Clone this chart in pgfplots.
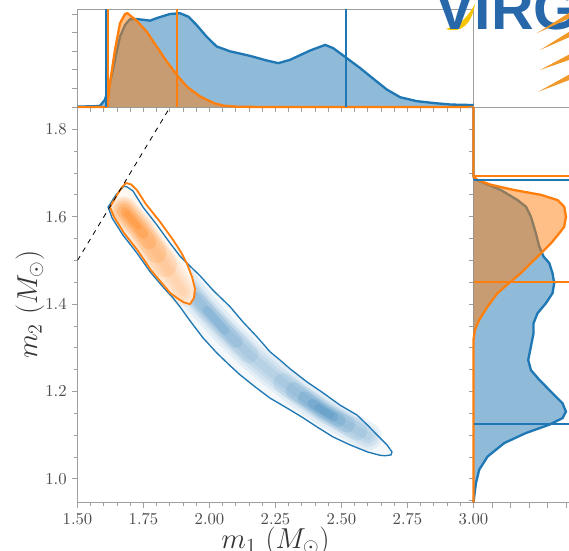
\documentclass[border=0pt]{standalone}
\usepackage{fontspec}
\usepackage{pgfplots}
\usepackage{pgfplotstable}
\pgfplotsset{compat=1.18}
\newfontfamily\logofont{Liberation Sans}

\definecolor{tabblue}{RGB}{31,119,180}
\definecolor{taborange}{RGB}{255,127,14}
\definecolor{virgoblue}{RGB}{38,104,170}
\definecolor{virgoyellow}{RGB}{246,196,0}
\definecolor{rayorange}{RGB}{240,152,40}

% marginal densities (top: m1, value scaled to panel height)
\pgfplotstableread{
x y
1.500 0.005
1.560 0.007
1.585 0.012
1.604 0.075
1.623 0.245
1.642 0.480
1.661 0.720
1.680 0.840
1.699 0.900
1.724 0.900
1.750 0.893
1.775 0.884
1.800 0.910
1.850 0.952
1.888 0.960
1.920 0.925
1.951 0.840
1.989 0.720
2.027 0.620
2.078 0.570
2.153 0.524
2.217 0.476
2.261 0.449
2.305 0.483
2.381 0.578
2.438 0.636
2.469 0.602
2.520 0.500
2.570 0.400
2.620 0.290
2.671 0.180
2.722 0.100
2.785 0.060
2.852 0.040
2.915 0.025
3.000 0.020
}\topblue

\pgfplotstableread{
x y
1.500 0
1.605 0
1.611 0.007
1.617 0.100
1.623 0.245
1.642 0.585
1.661 0.857
1.680 0.952
1.689 0.960
1.705 0.925
1.724 0.884
1.762 0.772
1.800 0.619
1.838 0.466
1.876 0.330
1.913 0.211
1.964 0.109
2.015 0.041
2.053 0.014
2.103 0.003
2.200 0
3.000 0
}\toporange

% right marginal: x = density (panel units), y = m2
\pgfplotstableread{
x y
0 0.946
0.7 0.960
2.4 0.990
5.7 1.021
14 1.051
30.7 1.082
52.4 1.105
75.7 1.124
89 1.139
92.4 1.154
89 1.173
79 1.196
65.7 1.227
57.4 1.249
54.7 1.272
57.4 1.303
60 1.333
60 1.356
64 1.379
72.4 1.402
79 1.425
80.7 1.448
79 1.471
75.7 1.494
70 1.509
65.7 1.532
62.4 1.562
57.4 1.600
52.4 1.623
44 1.638
27.4 1.661
10.7 1.677
0.7 1.686
0 1.695
0 1.851
}\rightblue

\pgfplotstableread{
x y
0 0.946
0 1.318
1.4 1.341
5.7 1.364
14 1.394
24 1.425
37.4 1.452
47.4 1.471
57.4 1.494
67.4 1.516
77.4 1.539
85.7 1.562
90.7 1.577
92.4 1.600
90.7 1.623
84 1.638
67.4 1.650
40.7 1.661
17.4 1.673
4.0 1.684
0 1.692
0 1.851
}\rightorange

% 90% contours in the m1-m2 plane
\pgfplotstableread{
x y
1.676 1.670
1.688 1.668
1.710 1.659
1.748 1.622
1.801 1.581
1.850 1.540
1.888 1.510
1.926 1.487
1.964 1.465
2.013 1.432
2.078 1.394
2.127 1.359
2.180 1.325
2.229 1.291
2.267 1.272
2.305 1.252
2.369 1.222
2.430 1.197
2.494 1.169
2.559 1.146
2.597 1.124
2.634 1.101
2.672 1.078
2.691 1.062
2.688 1.055
2.665 1.053
2.646 1.054
2.597 1.062
2.532 1.078
2.468 1.096
2.407 1.119
2.354 1.140
2.305 1.158
2.229 1.185
2.172 1.211
2.116 1.238
2.078 1.259
2.028 1.288
1.975 1.323
1.926 1.362
1.888 1.394
1.862 1.414
1.824 1.439
1.775 1.474
1.725 1.517
1.672 1.558
1.631 1.597
1.616 1.622
1.646 1.650
}\bluecont

\pgfplotstableread{
x y
1.623 1.622
1.650 1.650
1.669 1.668
1.684 1.677
1.703 1.674
1.725 1.661
1.759 1.629
1.813 1.588
1.862 1.547
1.892 1.519
1.915 1.492
1.934 1.462
1.945 1.435
1.941 1.414
1.926 1.400
1.903 1.404
1.877 1.414
1.850 1.426
1.828 1.442
1.778 1.478
1.729 1.522
1.676 1.563
1.638 1.600
}\orangecont

% ridge lines of the two posteriors (for the density shading)
\pgfplotstableread{
x y
1.700 1.590
1.775 1.538
1.869 1.474
1.964 1.403
2.059 1.339
2.153 1.284
2.248 1.236
2.343 1.192
2.438 1.153
2.532 1.121
2.600 1.097
}\blueridge

\pgfplotstableread{
x y
1.675 1.615
1.737 1.572
1.828 1.492
1.900 1.427
}\orangeridge

\pgfplotsset{
  every axis/.append style={
    scale only axis,
    tick align=outside,
    axis line style={draw=gray!75, line width=0.6pt},
    tick style={draw=gray!75, line width=0.5pt},
    major tick length=3pt, minor tick length=2pt,
    tick label style={font=\fontsize{10}{12}\selectfont, text=black!70},
    label style={font=\fontsize{17.5}{20}\selectfont, text=black!80},
  },
  ridge/.style={line cap=round, line join=miter, miter limit=4, line width=#1},
}

\begin{document}
\begin{tikzpicture}

% ---- main joint panel
\begin{axis}[
  name=main, at={(0,0)}, anchor=south west,
  width=237.6pt, height=237.3pt,
  xmin=1.5, xmax=3.0, ymin=0.946, ymax=1.851,
  axis x line*=bottom, axis y line*=left,
  x axis line style={-}, y axis line style={-},
  xtick={1.5,1.75,2,2.25,2.5,2.75,3},
  ytick={1.0,1.2,1.4,1.6,1.8},
  minor x tick num=4, minor y tick num=3,
  xticklabel style={/pgf/number format/.cd, fixed, fixed zerofill, precision=2},
  yticklabel style={/pgf/number format/.cd, fixed, fixed zerofill, precision=1},
  xlabel={$m_1$ $(M_\odot)$}, ylabel={$m_2$ $(M_\odot)$},
  xlabel style={at={(axis description cs:0.5,0)}, anchor=base, yshift=-27.5pt},
  ylabel style={at={(axis description cs:0,0.5)}, anchor=center, yshift=28.5pt},
]
  % blue density
  \addplot[draw=none, fill=tabblue!5] table {\bluecont} -- cycle;
  \addplot[tabblue, ridge=17pt, opacity=0.08] table {\blueridge};
  \addplot[tabblue, ridge=13pt, opacity=0.08] table {\blueridge};
  \addplot[tabblue, ridge=9pt, opacity=0.08] table {\blueridge};
  \addplot[tabblue, ridge=5pt, opacity=0.08] table {\blueridge};
  \addplot[tabblue, ridge=12pt, opacity=0.09] coordinates {(2.28,1.219) (2.438,1.153) (2.56,1.111)};
  \addplot[tabblue, ridge=10pt, opacity=0.11] coordinates {(2.32,1.202) (2.438,1.153) (2.52,1.125)};
  \addplot[tabblue, ridge=8pt, opacity=0.13] coordinates {(2.36,1.185) (2.438,1.153) (2.49,1.135)};
  \addplot[tabblue, ridge=6pt, opacity=0.15] coordinates {(2.39,1.172) (2.47,1.142)};
  \addplot[tabblue, ridge=4pt, opacity=0.15] coordinates {(2.41,1.164) (2.46,1.146)};
  \addplot[tabblue, ridge=11pt, opacity=0.08] coordinates {(1.90,1.450) (2.00,1.378) (2.15,1.286)};
  \addplot[tabblue, ridge=8pt, opacity=0.10] coordinates {(1.95,1.413) (2.10,1.315)};
  \addplot[tabblue, ridge=5pt, opacity=0.11] coordinates {(1.99,1.386) (2.06,1.339)};
  % orange density
  \addplot[draw=none, fill=white] table {\orangecont} -- cycle;
  \addplot[draw=none, fill=taborange!5] table {\orangecont} -- cycle;
  \addplot[taborange, ridge=17pt, opacity=0.08] table {\orangeridge};
  \addplot[taborange, ridge=13pt, opacity=0.08] table {\orangeridge};
  \addplot[taborange, ridge=9pt, opacity=0.08] table {\orangeridge};
  \addplot[taborange, ridge=5pt, opacity=0.08] table {\orangeridge};
  \addplot[taborange, ridge=15pt, opacity=0.12] coordinates {(1.675,1.615) (1.737,1.572) (1.830,1.490)};
  \addplot[taborange, ridge=12pt, opacity=0.14] coordinates {(1.677,1.613) (1.737,1.571) (1.800,1.517)};
  \addplot[taborange, ridge=9pt, opacity=0.17] coordinates {(1.679,1.612) (1.737,1.571) (1.770,1.543)};
  \addplot[taborange, ridge=6pt, opacity=0.2] coordinates {(1.682,1.610) (1.750,1.561)};
  \addplot[taborange, ridge=3.5pt, opacity=0.2] coordinates {(1.686,1.607) (1.730,1.577)};
  % contour lines
  \addplot[tabblue, line width=0.8pt] table {\bluecont} -- cycle;
  \addplot[taborange, line width=1.1pt] table {\orangecont} -- cycle;
  % m1 = m2
  \addplot[black, dashed, line width=0.5pt] coordinates {(1.5,1.5) (1.851,1.851)};
\end{axis}

% ---- top marginal (m1)
\begin{axis}[
  at={(main.north west)}, anchor=south west,
  width=237.6pt, height=58.6pt,
  xmin=1.5, xmax=3.0, ymin=0, ymax=1, clip=false,
  xtick={1.5,1.55,...,3.01}, ytick={0,0.19,0.38,0.57,0.76,0.95},
  xticklabels={}, yticklabels={},
  xtick pos=bottom, ytick pos=left,
]
  \addplot[draw=none, fill=tabblue, fill opacity=0.5] table {\topblue} \closedcycle;
  \addplot[tabblue, line width=1.4pt] table {\topblue};
  \addplot[draw=none, fill=taborange, fill opacity=0.5] table {\toporange} \closedcycle;
  \addplot[taborange, line width=1.4pt] table {\toporange};
  \addplot[tabblue, line width=1.2pt] coordinates {(1.608,0) (1.608,1)};
  \addplot[tabblue, line width=1.2pt] coordinates {(2.517,0) (2.517,1)};
  \addplot[taborange, line width=1.2pt] coordinates {(1.617,0) (1.617,1)};
  \addplot[taborange, line width=1.2pt] coordinates {(1.878,0) (1.878,1)};
\end{axis}

% ---- right marginal (m2)
\begin{axis}[
  at={(main.south east)}, anchor=south west,
  width=60pt, height=237.3pt,
  xmin=0, xmax=100, ymin=0.946, ymax=1.851, clip=false,
  xtick={0,18.6,37.2,55.8,74.4,93}, ytick={0.95,1.0,...,1.86},
  xticklabels={}, yticklabels={},
  xtick pos=bottom, ytick pos=left,
]
  \addplot[draw=none, fill=tabblue, fill opacity=0.5] table {\rightblue} -- cycle;
  \addplot[tabblue, line width=1.4pt] table {\rightblue};
  \addplot[draw=none, fill=taborange, fill opacity=0.5] table {\rightorange} -- cycle;
  \addplot[taborange, line width=1.4pt] table {\rightorange};
  \addplot[tabblue, line width=1.2pt] coordinates {(0,1.683) (100,1.683)};
  \addplot[tabblue, line width=1.2pt] coordinates {(0,1.126) (100,1.126)};
  \addplot[taborange, line width=1.2pt] coordinates {(0,1.692) (100,1.692)};
  \addplot[taborange, line width=1.2pt] coordinates {(0,1.4515) (100,1.4515)};
\end{axis}

% ---- Virgo logo (corner decoration), in 0.6pt units from the page corner
\begin{scope}[shift={(main.south west)}, xshift=-46.5pt, yshift=-28.5pt, x=0.6pt, y=0.6pt]
\fill[virgoyellow] (446,521) .. controls (462,516) and (472,527) .. (475,546)
  .. controls (467,532) and (460,525) .. (446,521) -- cycle;
\node[anchor=base west, inner sep=0, text=virgoblue,
  font=\logofont\bfseries\fontsize{35.4}{36}\selectfont] at (435,520) {VIRGO};
\fill[rayorange] (536.7,516.7) -- (572,533) -- (572,539) -- cycle;
\fill[rayorange] (540,500) -- (572,514) -- (572,520) -- cycle;
\fill[rayorange] (540,480) -- (572,491) -- (572,497) -- cycle;
\fill[rayorange] (538.3,458.3) -- (572,471) -- (572,477) -- cycle;
\end{scope}

% page = reference frame
\pgfresetboundingbox
\path[use as bounding box] (main.south west) ++(-46.5pt,-28.5pt) rectangle ++(341.4pt,330pt);
\end{tikzpicture}
\end{document}
